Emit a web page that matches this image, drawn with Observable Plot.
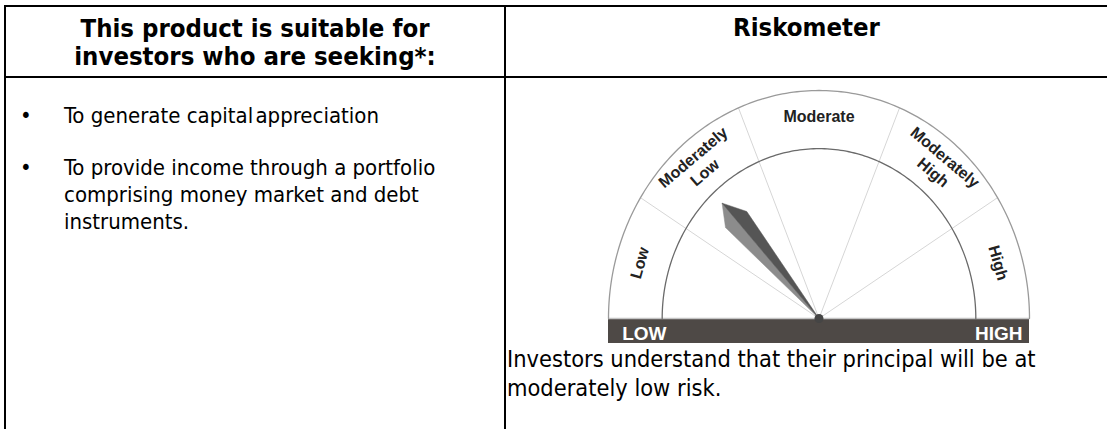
<!DOCTYPE html>
<html><head><meta charset="utf-8">
<script src="https://cdn.jsdelivr.net/npm/d3@7"></script>
<script src="https://cdn.jsdelivr.net/npm/@observablehq/plot@0.6"></script>
<style>
html,body{margin:0;padding:0;background:#fff;}
#page{position:relative;width:1107px;height:429px;overflow:hidden;background:#fff;font-family:"DejaVu Sans Condensed","DejaVu Sans",sans-serif;color:#000;}
.rule{position:absolute;background:#000;}
.hdr{position:absolute;font-weight:bold;font-size:25.5px;line-height:28px;text-align:center;white-space:nowrap;}
.line{position:absolute;font-size:22px;line-height:27px;white-space:nowrap;}
.bullet{position:absolute;font-size:22px;line-height:27px;}
#gauge{position:absolute;left:507px;top:79px;}
#gauge svg{overflow:visible;}
.cap{position:absolute;left:507px;font-size:23.4px;line-height:29px;white-space:nowrap;}
</style></head><body>
<div id="page"></div>
<script>
// ---- data ----
const headers = ["This product is suitable for\ninvestors who are seeking*:", "Riskometer"];
const objectives = [
  ["To generate capital appreciation"],
  ["To provide income through a portfolio", "comprising money market and debt", "instruments."]
];
const caption = ["Investors understand that their principal will be at", "moderately low risk."];
const riskLevels = ["Low", "Moderately Low", "Moderate", "Moderately High", "High"];
const labelLines = [["Low"], ["Moderately", "Low"], ["Moderate"], ["Moderately", "High"], ["High"]];
const segmentEdges = [0, 32, 67.5, 112.5, 148, 180];   // degrees from the LOW end
const needleAngle = 47.7;                                // points at "Moderately Low"
const scaleEnds = ["LOW", "HIGH"];

// ---- table ----
const page = document.getElementById("page");
function add(cls, css, text) {
  const d = document.createElement("div");
  d.className = cls; Object.assign(d.style, css);
  if (text != null) d.textContent = text;
  page.appendChild(d); return d;
}
add("rule", {left: "4px", top: "5px", width: "1103px", height: "2px"});
add("rule", {left: "4px", top: "5px", width: "2px", height: "424px"});
add("rule", {left: "504px", top: "5px", width: "2px", height: "424px"});
add("rule", {left: "4px", top: "76px", width: "1103px", height: "2px"});

headers[0].split("\n").forEach((t, i) => add("hdr", {left: "6px", width: "498px", top: (14 + i * 28) + "px"}, t));
add("hdr", {left: "506px", width: "601px", top: "13px"}, headers[1]);

const itemTops = [102, 154];
objectives.forEach((lines, i) => {
  add("bullet", {left: "20px", top: itemTops[i] + "px"}, "\u2022");
  lines.forEach((t, j) => {
    const d = add("line", {left: "64px", top: (itemTops[i] + j * 27) + "px"});
    // the source squeezes the gap in "capital appreciation"
    t.split(" ").forEach((w, k) => {
      const s = document.createElement("span");
      s.textContent = (k ? " " : "") + w;
      if (w === "appreciation") s.style.marginLeft = "-4px";
      d.appendChild(s);
    });
  });
});
caption.forEach((t, i) => add("cap", {top: (345 + i * 29) + "px"}, t));

// ---- gauge ----
const rad = d => d * Math.PI / 180;
const pt = (deg, r) => ({x: -Math.cos(rad(deg)) * r, y: Math.sin(rad(deg)) * r});
const R_OUT = 1, R_IN = 0.745;
const arc = r => d3.range(0, 180.5, 1).map(d => pt(d, r));
const spokes = segmentEdges.slice(1, -1).map(d => ({x1: 0, y1: 0, x2: pt(d, R_OUT).x, y2: pt(d, R_OUT).y}));

// needle
const u = pt(needleAngle, 1), n = {x: Math.sin(rad(needleAngle)), y: Math.cos(rad(needleAngle))};
const along = (a, w) => ({x: u.x * a + n.x * w, y: u.y * a + n.y * w});
const C = {x: 0, y: 0}, T = along(0.684, 0), Rt = along(0.578, 0.062), Lf = along(0.594, -0.06);
const needleDark = [C, T, Rt, C];
const needleLight = [C, Lf, T, C];

const labels = [];
labelLines.forEach((lines, i) => {
  const mid = (segmentEdges[i] + segmentEdges[i + 1]) / 2;
  const radii = lines.length === 1 ? [0.885] : [0.925, 0.838];
  lines.forEach((t, j) => labels.push({...pt(mid, radii[j]), text: t, rot: mid - 90, level: riskLevels[i]}));
});

const chart = Plot.plot({
  width: 600, height: 266,
  x: {domain: [-1, 1], range: [101, 522], axis: null},
  y: {domain: [0, 1], range: [239, 11], axis: null},
  marks: [
    Plot.rect([{x1: -1, x2: 1, y1: -0.1096, y2: 0}], {x1: "x1", x2: "x2", y1: "y1", y2: "y2", fill: "#4e4946"}),
    Plot.ruleY([0], {x1: -1, x2: 1, stroke: "#c4c4c4", strokeWidth: 1.5}),
    Plot.link(spokes, {x1: "x1", y1: "y1", x2: "x2", y2: "y2", stroke: "#d6d6d6", strokeWidth: 1}),
    Plot.line(arc(R_OUT), {x: "x", y: "y", stroke: "#9a9a9a", strokeWidth: 1.3}),
    Plot.line(arc(R_IN), {x: "x", y: "y", stroke: "#6a6a6a", strokeWidth: 1.3}),
    Plot.line(needleLight, {x: "x", y: "y", fill: "#8c8c8c", stroke: "#8c8c8c", strokeWidth: 0.5}),
    Plot.line(needleDark, {x: "x", y: "y", fill: "#555555", stroke: "#555555", strokeWidth: 0.5}),
    Plot.dot([C], {x: "x", y: "y", r: 4.5, fill: "#454545"}),
    Plot.text(labels, {x: "x", y: "y", text: "text", rotate: "rot", fontSize: 16, fontWeight: "bold",
      fontFamily: "Liberation Sans, Arial, sans-serif", fill: "#222"}),
    Plot.text([{x: -0.935, y: -0.096, t: scaleEnds[0]}], {x: "x", y: "y", text: "t", textAnchor: "start", lineAnchor: "bottom",
      fontSize: 19, fontWeight: "bold", fontFamily: "Liberation Sans, Arial, sans-serif", fill: "#fff"}),
    Plot.text([{x: 0.967, y: -0.096, t: scaleEnds[1]}], {x: "x", y: "y", text: "t", textAnchor: "end", lineAnchor: "bottom",
      fontSize: 19, fontWeight: "bold", fontFamily: "Liberation Sans, Arial, sans-serif", fill: "#fff"})
  ]
});
const g = document.createElement("div"); g.id = "gauge"; g.appendChild(chart); page.appendChild(g);
</script>
</body></html>
